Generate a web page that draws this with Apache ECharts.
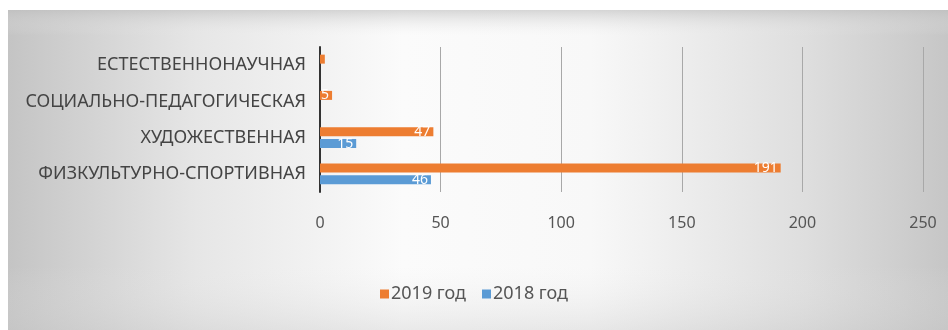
<!DOCTYPE html>
<html><head><meta charset="utf-8">
<script src="https://cdn.jsdelivr.net/npm/echarts@6/dist/echarts.min.js"></script>
<style>html,body{margin:0;padding:0;background:#fff}#c{width:948px;height:330px}</style>
</head><body><div id="c"></div>
<script>
const categories = ['ФИЗКУЛЬТУРНО-СПОРТИВНАЯ','ХУДОЖЕСТВЕННАЯ','СОЦИАЛЬНО-ПЕДАГОГИЧЕСКАЯ','ЕСТЕСТВЕННОНАУЧНАЯ'];
const values2019 = [191, 47, 5, 2];
const values2018 = [46, 15, 0, 0];
const seriesNames = ['2019 год', '2018 год'];
const xTicks = [0, 50, 100, 150, 200, 250];

const FONT = '"Liberation Sans Narrow", "Noto Sans", sans-serif';
const chart = echarts.init(document.getElementById('c'));
const lbl = {
  show: true, position: 'insideRight', color: '#fff', fontSize: 14, fontFamily: FONT, distance: 3,
  formatter: p => (p.value >= 5 ? p.value : '')
};
chart.setOption({
  animation: false,
  graphic: [{
    type: 'rect', left: 8, top: 10, z: -10,
    shape: { width: 940, height: 320 },
    style: { fill: new echarts.graphic.LinearGradient(0, 0, 1, 0, [
      { offset: 0, color: '#c4c4c4' },
      { offset: 0.2, color: '#e6e6e6' },
      { offset: 0.42, color: '#fbfbfb' },
      { offset: 0.62, color: '#f8f8f8' },
      { offset: 0.85, color: '#dedede' },
      { offset: 1, color: '#c6c6c6' }
    ]) }
  }, {
    type: 'rect', left: 8, top: 10, z: -9,
    shape: { width: 940, height: 320 },
    style: { fill: new echarts.graphic.LinearGradient(0, 0, 0, 1, [
      { offset: 0, color: 'rgba(190,190,190,0.6)' },
      { offset: 0.08, color: 'rgba(235,235,235,0)' },
      { offset: 0.8, color: 'rgba(235,235,235,0)' },
      { offset: 1, color: 'rgba(200,200,200,0.35)' }
    ]) }
  }],
  grid: { left: 320, right: 25, top: 47, bottom: 138, containLabel: false },
  legend: {
    data: seriesNames, bottom: 22, left: 'center', itemWidth: 9, itemHeight: 9, itemGap: 16,
    textStyle: { color: '#555', fontSize: 18, fontFamily: FONT, padding: [0, 0, 0, -3] },
    icon: 'rect'
  },
  xAxis: {
    type: 'value', min: xTicks[0], max: xTicks[xTicks.length - 1], interval: 50,
    axisLine: { show: false }, axisTick: { show: false },
    axisLabel: { color: '#555', fontSize: 16, fontFamily: FONT, margin: 23 },
    splitLine: { show: true, lineStyle: { color: '#a8a8a8', width: 1 } }
  },
  yAxis: {
    type: 'category', data: categories,
    axisLine: { show: true, lineStyle: { color: '#333', width: 2 } },
    axisTick: { show: false },
    axisLabel: { color: '#444', fontSize: 18, fontFamily: FONT, margin: 14 }
  },
  series: [
    { name: seriesNames[0], type: 'bar', data: values2019, barWidth: 9, barGap: '33%',
      itemStyle: { color: '#ed7d31' }, label: lbl },
    { name: seriesNames[1], type: 'bar', data: values2018, barWidth: 9, barGap: '33%',
      itemStyle: { color: '#5b9bd5' }, label: lbl }
  ]
});
</script></body></html>
